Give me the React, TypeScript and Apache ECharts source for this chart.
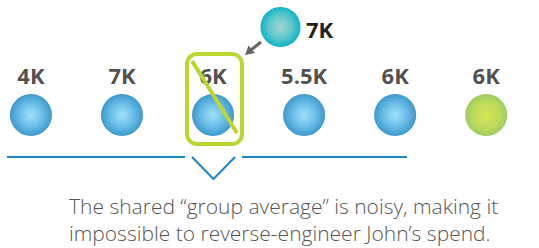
import React, { useEffect, useRef } from "react";
import * as echarts from "echarts";

const categories = ["A", "B", "C", "D", "E", "John"];
const spendValues = [4, 7, 6, 5.5, 6, 6];
const newcomerValue = 7;
const caption = [
  "The shared \u201cgroup average\u201d is noisy, making it",
  "impossible to reverse-engineer John\u2019s spend.",
];

const blueGrad = () =>
  new echarts.graphic.RadialGradient(0.5, 0.5, 0.5, [
    { offset: 0, color: "#8adaf7" },
    { offset: 0.55, color: "#45ade2" },
    { offset: 1, color: "#0f7fbf" },
  ]);
const greenGrad = () =>
  new echarts.graphic.RadialGradient(0.5, 0.5, 0.5, [
    { offset: 0, color: "#cfdc2a" },
    { offset: 0.65, color: "#acd034" },
    { offset: 1, color: "#86bf3c" },
  ]);
const tealGrad = () =>
  new echarts.graphic.RadialGradient(0.5, 0.5, 0.5, [
    { offset: 0, color: "#a3d6cf" },
    { offset: 0.6, color: "#5ac6cc" },
    { offset: 1, color: "#10b2c6" },
  ]);

export default function App() {
  const ref = useRef<HTMLDivElement>(null);
  useEffect(() => {
    if (!ref.current) return;
    const chart = echarts.init(ref.current, null, { renderer: "svg" });
    const font = "'Open Sans', sans-serif";
    chart.setOption({
      animation: false,
      grid: { left: 0, right: 0, top: 95, height: 40 },
      xAxis: { type: "value", min: -0.34, max: 5.58, show: false },
      yAxis: { type: "value", min: -1, max: 1, show: false },
      series: [
        {
          type: "scatter",
          symbolSize: 42,
          data: spendValues.map((v, i) => ({
            name: categories[i],
            value: [i, 0],
            itemStyle: { color: i === spendValues.length - 1 ? greenGrad() : blueGrad() },
          })),
          label: {
            show: true,
            position: "top",
            distance: 8,
            formatter: (p: any) => `${spendValues[p.dataIndex]}K`,
            fontFamily: font,
            fontWeight: "bold",
            fontSize: 22,
            color: "#231f20",
          },
        },
      ],
      graphic: [
        {
          type: "circle",
          shape: { cx: 280.5, cy: 27, r: 20 },
          style: { fill: tealGrad() },
        },
        {
          type: "text",
          x: 306,
          y: 29,
          style: {
            text: `${newcomerValue}K`,
            fontFamily: font,
            fontWeight: "bold",
            fontSize: 22,
            fill: "#231f20",
            verticalAlign: "middle",
          },
        },
        {
          type: "line",
          shape: { x1: 261, y1: 42, x2: 251, y2: 50 },
          style: { stroke: "#666666", lineWidth: 3 },
        },
        {
          type: "polygon",
          shape: { points: [[245, 55], [248.5, 45.5], [255, 53]] },
          style: { fill: "#666666" },
        },
        {
          type: "rect",
          shape: { x: 187, y: 54, width: 55, height: 90, r: 10 },
          style: { fill: "none", stroke: "#bcd531", lineWidth: 4 },
          z: 10,
        },
        {
          type: "line",
          shape: { x1: 192, y1: 61, x2: 237, y2: 133 },
          style: { stroke: "#bcd531", lineWidth: 4 },
          z: 10,
        },
        {
          type: "line",
          shape: { x1: 7, y1: 157, x2: 185, y2: 157 },
          style: { stroke: "#1a86c2", lineWidth: 2 },
        },
        {
          type: "line",
          shape: { x1: 242, y1: 157, x2: 407, y2: 157 },
          style: { stroke: "#1a86c2", lineWidth: 2 },
        },
        {
          type: "polyline",
          shape: { points: [[192, 157], [213.5, 179], [235, 157]] },
          style: { stroke: "#1a86c2", lineWidth: 2, fill: "none" },
        },
        {
          type: "text",
          x: 69,
          y: 206,
          style: {
            text: caption[0],
            fontFamily: font,
            fontWeight: 300,
            fontSize: 21,
            fill: "#555555",
            verticalAlign: "middle",
          },
        },
        {
          type: "text",
          x: 69,
          y: 233,
          style: {
            text: caption[1],
            fontFamily: font,
            fontWeight: 300,
            fontSize: 21,
            fill: "#555555",
            verticalAlign: "middle",
          },
        },
      ],
    });
    return () => chart.dispose();
  }, []);
  return <div ref={ref} style={{ width: 539, height: 248, position: "absolute", left: 0, top: 0 }} />;
}
